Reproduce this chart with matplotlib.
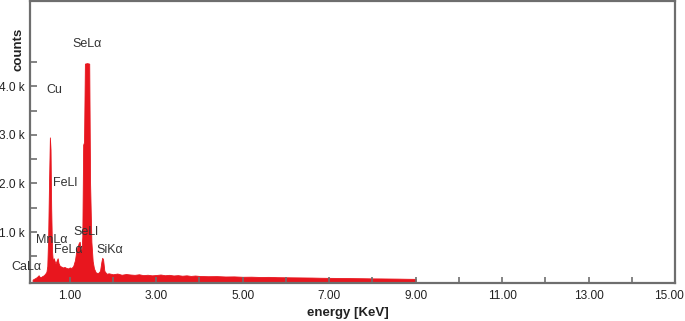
import matplotlib
matplotlib.use("Agg")
import matplotlib.pyplot as plt
import matplotlib.transforms as mtransforms

plt.rcParams['font.family'] = ['Liberation Sans', 'DejaVu Sans']

# Spectrum (energy in keV, counts)
energy = [0.14, 0.18, 0.22, 0.26, 0.28, 0.30, 0.33, 0.36, 0.40, 0.43, 0.46, 0.48,
          0.50, 0.52, 0.54, 0.555, 0.57, 0.59, 0.61, 0.63, 0.65, 0.67, 0.70, 0.72,
          0.74, 0.77, 0.80, 0.84, 0.88, 0.92, 0.96, 1.00, 1.04, 1.08, 1.12, 1.15,
          1.18, 1.21, 1.23, 1.25, 1.27, 1.29, 1.31, 1.33, 1.35, 1.40, 1.45, 1.47,
          1.50, 1.53, 1.56, 1.60, 1.65, 1.70, 1.73, 1.75, 1.77, 1.80, 1.85, 1.90,
          2.00, 2.10, 2.20, 2.30, 2.40, 2.50, 2.60, 2.70, 2.80, 2.90, 3.00, 3.10,
          3.20, 3.30, 3.40, 3.50, 3.60, 3.70, 3.80, 3.90, 4.00, 4.20, 4.40, 4.60,
          4.80, 5.00, 5.20, 5.40, 5.60, 5.80, 6.00, 6.20, 6.40, 6.60, 6.80, 7.00,
          7.20, 7.40, 7.60, 7.80, 8.00, 8.20, 8.40, 8.60, 8.80, 9.00]
counts = [20, 40, 60, 90, 110, 80, 70, 90, 110, 140, 180, 300,
          900, 2000, 2950, 2700, 1500, 600, 380, 460, 400, 350, 420, 460,
          360, 300, 290, 270, 280, 260, 250, 270, 260, 300, 420, 600,
          700, 780, 800, 650, 600, 900, 2800, 2850, 4470, 4480, 4470, 2000,
          800, 400, 250, 170, 150, 200, 380, 470, 440, 200, 140, 150,
          130, 145, 120, 135, 125, 118, 130, 112, 120, 108, 115, 125,
          110, 118, 105, 112, 100, 108, 96, 104, 95, 90, 92, 84,
          86, 78, 80, 74, 76, 70, 68, 66, 64, 62, 58, 56,
          54, 52, 50, 48, 45, 44, 42, 40, 37, 35]

# Peak labels (text, energy keV, counts)
labels = ["SeLα", "Cu", "FeLl", "MnLα", "FeLα", "SeLl", "SiKα", "CaLα"]
label_x = [1.07, 0.47, 0.61, 0.21, 0.63, 1.09, 1.625, -0.34]
label_y = [4880, 3930, 2010, 830, 630, 1000, 630, 280]

xticks_major = [1, 3, 5, 7, 9, 11, 13, 15]
xtick_labels = ["1.00", "3.00", "5.00", "7.00", "9.00", "11.00", "13.00", "15.00"]
xticks_minor = [2, 4, 6, 8, 10, 12, 14]
yticks_major = [1000, 2000, 3000, 4000]
ytick_labels = ["1.0 k", "2.0 k", "3.0 k", "4.0 k"]
yticks_minor = [500, 1500, 2500, 3500, 4500]

fig = plt.figure(figsize=(6.85, 3.21), dpi=100)
ax = fig.add_axes([30/685, 1 - 283/321, 645/685, 282/321])

ymin, ymax = -50, 5760
ax.fill_between(energy, counts, ymin, color='#e8161e', lw=0.6, edgecolor='#e8161e')
ax.set_xlim(0.08, 15)
ax.set_ylim(ymin, ymax)

gray = '#6e6e6e'
for s in ax.spines.values():
    s.set_color(gray)
    s.set_linewidth(1.6)

ax.set_xticks(xticks_major)
ax.set_xticklabels(xtick_labels)
ax.set_xticks(xticks_minor, minor=True)
ax.set_yticks(yticks_major)
ax.set_yticklabels(ytick_labels)
ax.set_yticks(yticks_minor, minor=True)
ax.tick_params(which='both', direction='in', color=gray, width=1.2, labelsize=8.6,
               labelcolor='#222222')
ax.tick_params(axis='x', which='both', length=4, pad=5)
ax.tick_params(axis='y', which='both', length=5, pad=4)

# last x tick label sits slightly left, inside the image
last = ax.get_xticklabels()[-1]
last.set_transform(last.get_transform() + mtransforms.ScaledTranslation(-6/100, 0, fig.dpi_scale_trans))

for t, x, y in zip(labels, label_x, label_y):
    ax.text(x, y, t, fontsize=9, color='#333333', ha='left', va='center', clip_on=False)

fig.text(18/685, 1 - 49/321, 'counts', rotation=90, fontsize=9.5, fontweight='bold',
         ha='center', va='center', color='#222222')
fig.text(348/685, 1 - 313/321, 'energy [KeV]', fontsize=9.5, fontweight='bold',
         ha='center', va='center', color='#222222')

fig.savefig('out.png', dpi=100)
